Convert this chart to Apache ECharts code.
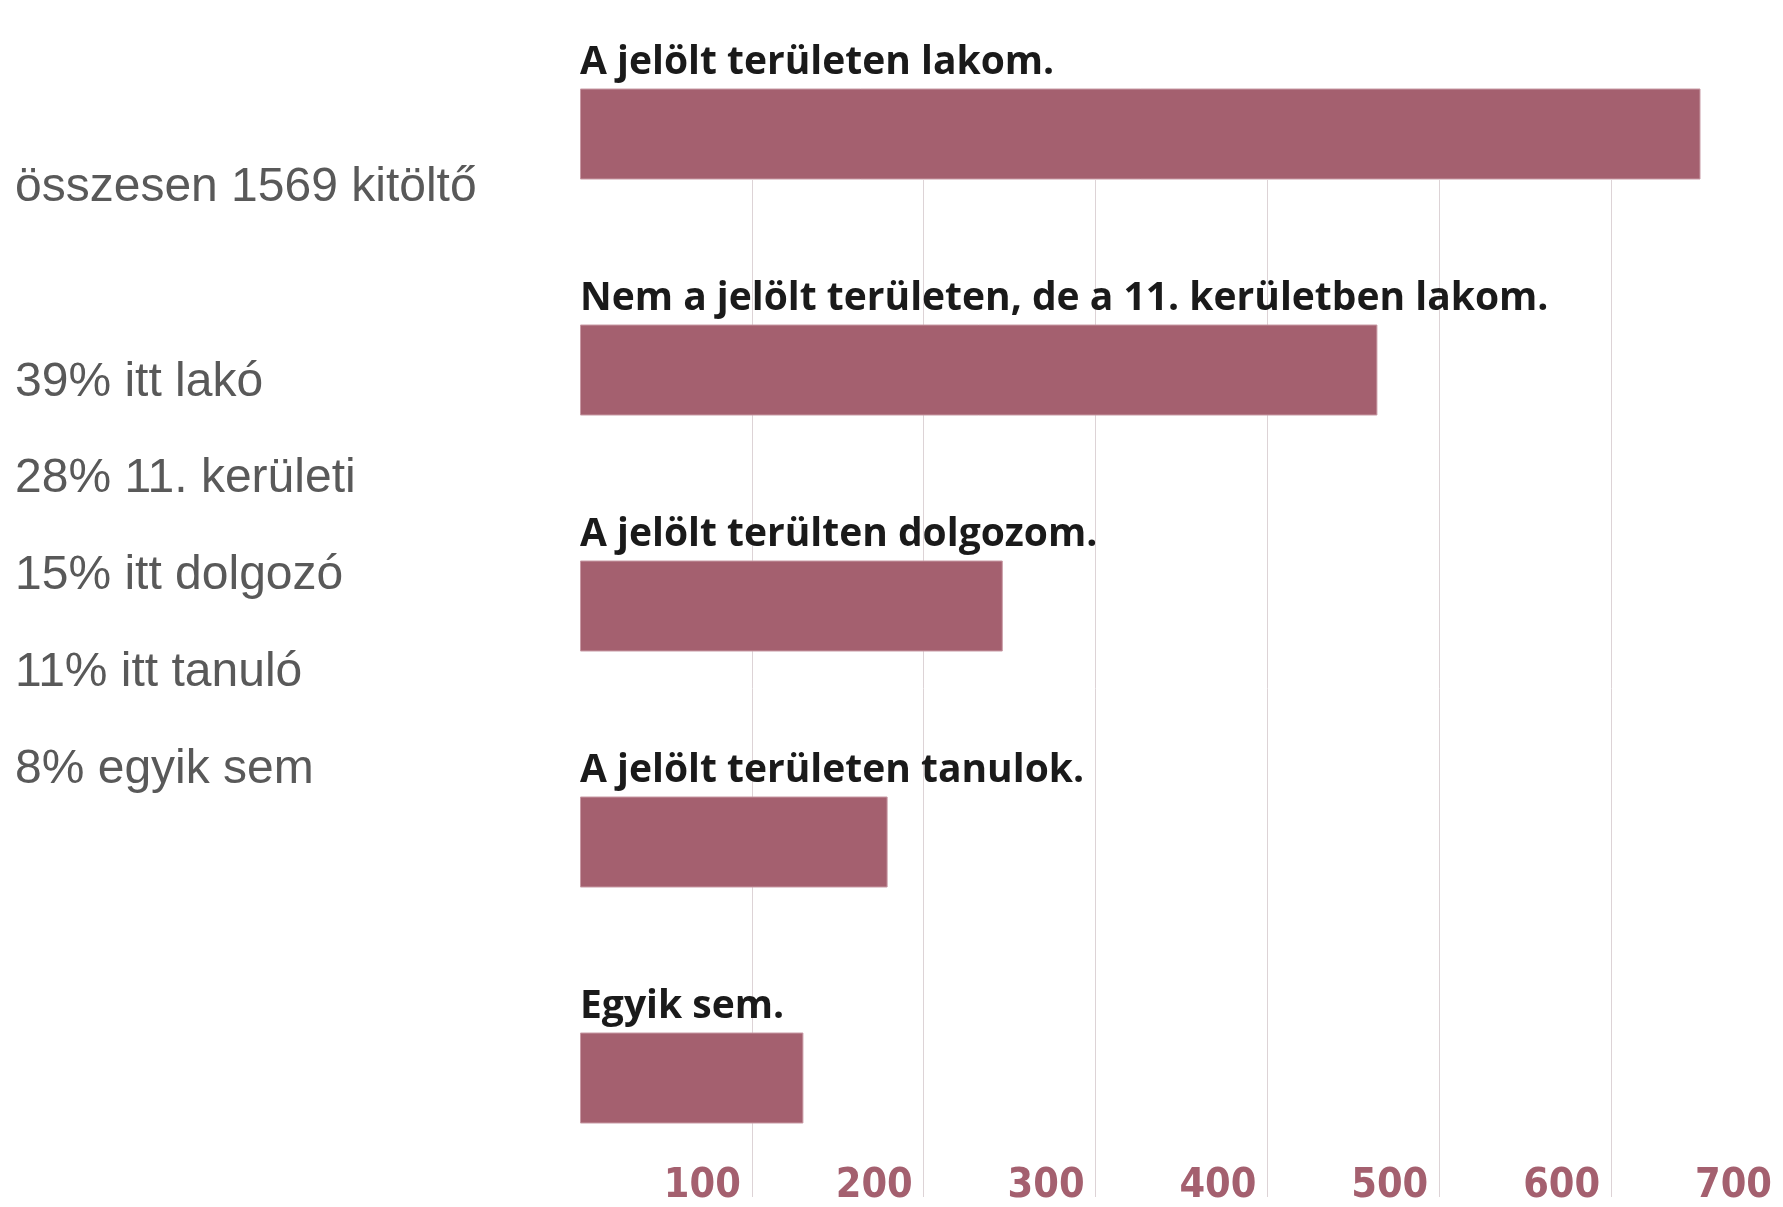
<!DOCTYPE html>
<html>
<head>
<meta charset="utf-8">
<script src="https://cdn.jsdelivr.net/npm/echarts@6/dist/echarts.min.js"></script>
<style>
  html, body { margin: 0; padding: 0; background: #fff; }
  #main { width: 1783px; height: 1207px; }
</style>
</head>
<body>
<div id="main"></div>
<script>
// válaszok megoszlása
var categories = [
    'A jelölt területen lakom.',
    'Nem a jelölt területen, de a 11. kerületben lakom.',
    'A jelölt terülten dolgozom.',
    'A jelölt területen tanulok.',
    'Egyik sem.'
];
var values = [652, 464, 246, 179, 130];
var tickValues = [100, 200, 300, 400, 500, 600, 700];
var summaryLines = [
    'összesen 1569 kitöltő',
    '39% itt lakó',
    '28% 11. kerületi',
    '15% itt dolgozó',
    '11% itt tanuló',
    '8% egyik sem'
];
var summaryY = [200, 395, 491, 588, 685, 782];

var barColor = '#a4606f';

var myChart = echarts.init(document.getElementById('main'));

var graphics = summaryLines.map(function (t, i) {
    return {
        type: 'text',
        left: 15,
        top: summaryY[i] - 36,
        style: {
            text: t,
            fill: '#595959',
            font: '48px "Liberation Sans", Arial, sans-serif'
        }
    };
});

option = {
    backgroundColor: '#fff',
    animation: false,
    graphic: graphics,
    grid: [
        { left: 580, width: 1207, top: 16, height: 1180 },
        { left: 580, width: 1207, top: 180, bottom: 0 }
    ],
    xAxis: [
        {
            gridIndex: 0, type: 'value', min: 0, max: 700, interval: 100,
            show: false
        },
        {
            gridIndex: 1, type: 'value', min: 0, max: 700, interval: 100,
            axisLine: { show: false },
            axisTick: { show: false },
            splitLine: {
                show: true,
                showMinLine: false,
                lineStyle: { color: '#ddd3d6', width: 1 }
            },
            axisLabel: {
                inside: true,
                margin: -10,
                showMinLabel: false,
                align: 'right',
                padding: [0, 11, 0, 0],
                color: barColor,
                fontSize: 41,
                fontWeight: 'bold',
                fontFamily: '"Liberation Sans Narrow", "DejaVu Sans Condensed", sans-serif',
                formatter: function (v) { return tickValues.indexOf(v) >= 0 ? String(v) : ''; }
            }
        }
    ],
    yAxis: [
        {
            gridIndex: 0, type: 'category', data: categories, inverse: true,
            show: false
        },
        {
            gridIndex: 1, type: 'value', show: false
        }
    ],
    series: [
        {
            type: 'bar',
            xAxisIndex: 0,
            yAxisIndex: 0,
            data: values,
            barWidth: 91,
            itemStyle: {
                color: barColor,
                borderColor: '#c89aa5',
                borderWidth: 1
            },
            label: {
                show: true,
                position: [0, -6],
                align: 'left',
                verticalAlign: 'bottom',
                formatter: '{b}',
                color: '#1a1a1a',
                fontSize: 39,
                fontWeight: 'bold',
                fontFamily: '"Open Sans", sans-serif'
            }
        }
    ]
};

myChart.setOption(option);
</script>
</body>
</html>
